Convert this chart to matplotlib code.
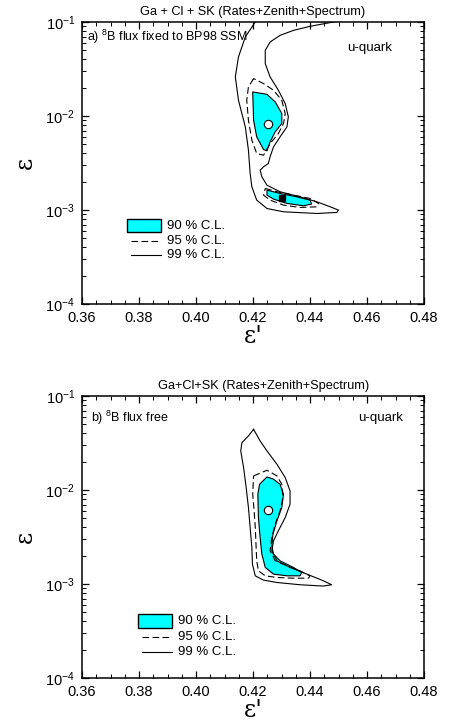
import numpy as np
import matplotlib.pyplot as plt
from matplotlib.patches import Rectangle
from matplotlib.lines import Line2D
from matplotlib.ticker import MultipleLocator, LogLocator, NullFormatter

plt.rcParams['font.family'] = ['Liberation Sans', 'DejaVu Sans']
plt.rcParams['mathtext.fontset'] = 'custom'
plt.rcParams['mathtext.rm'] = 'Liberation Sans'
plt.rcParams['mathtext.it'] = 'Liberation Sans:italic'

# contours: (eps', log10 eps)
# panel a, 8B flux fixed to BP98 SSM
a99 = [(0.4208, -0.90), (0.4208, -1.0), (0.4173, -1.159), (0.4149, -1.372), (0.4138, -1.584),
       (0.4149, -1.832), (0.4173, -2.116), (0.4184, -2.364), (0.4190, -2.612),
       (0.4196, -2.753), (0.4213, -2.895), (0.4249, -2.984), (0.4307, -3.019),
       (0.4424, -3.037), (0.4494, -3.026), (0.4500, -3.001), (0.4471, -2.966),
       (0.4424, -2.913), (0.4365, -2.860), (0.4295, -2.806), (0.4249, -2.736),
       (0.4231, -2.647), (0.4225, -2.576), (0.4237, -2.541), (0.4254, -2.505),
       (0.4260, -2.434), (0.4272, -2.328), (0.4295, -2.222), (0.4319, -2.116),
       (0.4324, -2.009), (0.4313, -1.868), (0.4289, -1.726), (0.4260, -1.584),
       (0.4243, -1.443), (0.4243, -1.301), (0.4260, -1.213), (0.4295, -1.142),
       (0.4342, -1.089), (0.4400, -1.046), (0.4482, -1.0), (0.4560, -0.96)]
a95_up = [(0.4202, -1.602), (0.4184, -1.691), (0.4178, -1.832), (0.4184, -2.045),
          (0.4196, -2.257), (0.4213, -2.399), (0.4237, -2.417), (0.4260, -2.293),
          (0.4289, -2.187), (0.4307, -2.080), (0.4313, -1.974), (0.4301, -1.832),
          (0.4272, -1.726), (0.4237, -1.655)]
a90_up = [(0.4199, -1.744), (0.4249, -1.769), (0.4278, -1.850), (0.4301, -1.974),
          (0.4301, -2.080), (0.4278, -2.169), (0.4260, -2.275), (0.4249, -2.371),
          (0.4237, -2.357), (0.4213, -2.222), (0.4202, -2.045)]
a95_lo = [(0.4243, -2.771), (0.4284, -2.806), (0.4342, -2.842), (0.4400, -2.877),
          (0.4430, -2.930), (0.4424, -2.966), (0.4365, -2.973), (0.4307, -2.948),
          (0.4260, -2.895), (0.4237, -2.842)]
a90_lo = [(0.4249, -2.789), (0.4295, -2.824), (0.4354, -2.860), (0.4400, -2.895),
          (0.4406, -2.937), (0.4377, -2.955), (0.4319, -2.930), (0.4272, -2.884),
          (0.4249, -2.842)]
a_best = (0.4251, 8.3e-3)
a_local = (0.4301, 1.35e-3)

# panel b, 8B flux free
b99 = [(0.4202, -1.354), (0.4225, -1.478), (0.4249, -1.584), (0.4284, -1.726),
       (0.4313, -1.868), (0.4330, -2.009), (0.4330, -2.151), (0.4313, -2.293),
       (0.4289, -2.434), (0.4272, -2.541), (0.4266, -2.647), (0.4284, -2.753),
       (0.4330, -2.824), (0.4389, -2.895), (0.4447, -2.966), (0.4476, -3.008),
       (0.4447, -3.022), (0.4365, -3.008), (0.4284, -2.984), (0.4237, -2.959),
       (0.4208, -2.913), (0.4198, -2.789), (0.4196, -2.612), (0.4190, -2.399),
       (0.4184, -2.187), (0.4176, -1.974), (0.4167, -1.762), (0.4157, -1.584),
       (0.4161, -1.496), (0.4184, -1.425)]
b95 = [(0.4202, -1.850), (0.4249, -1.790), (0.4284, -1.850), (0.4301, -1.939),
       (0.4305, -2.080), (0.4295, -2.222), (0.4278, -2.364), (0.4266, -2.505),
       (0.4260, -2.647), (0.4278, -2.753), (0.4319, -2.806), (0.4365, -2.860),
       (0.4400, -2.913), (0.4395, -2.938), (0.4342, -2.938), (0.4284, -2.931),
       (0.4243, -2.913), (0.4219, -2.860), (0.4213, -2.753), (0.4211, -2.612),
       (0.4208, -2.399), (0.4204, -2.222), (0.4199, -2.045)]
b90 = [(0.4249, -1.861), (0.4223, -1.939), (0.4217, -2.045), (0.4219, -2.293),
       (0.4225, -2.505), (0.4231, -2.682), (0.4243, -2.824), (0.4272, -2.895),
       (0.4319, -2.913), (0.4365, -2.913), (0.4371, -2.877), (0.4342, -2.824),
       (0.4295, -2.753), (0.4272, -2.682), (0.4266, -2.594), (0.4270, -2.470),
       (0.4284, -2.328), (0.4301, -2.187), (0.4307, -2.045), (0.4295, -1.939),
       (0.4272, -1.885)]
b_best = (0.4252, 6.1e-3)

titles = ['Ga + Cl + SK (Rates+Zenith+Spectrum)', 'Ga+Cl+SK (Rates+Zenith+Spectrum)']
labels = [r'a) $^{8}$B flux fixed to BP98 SSM', r'b) $^{8}$B flux free']
cl_labels = ['90 % C.L.', '95 % C.L.', '99 % C.L.']
CYAN = '#00ffff'


def xy(pts, close=True):
    x = [p[0] for p in pts]
    y = [10 ** p[1] for p in pts]
    if close:
        x.append(x[0])
        y.append(y[0])
    return x, y


def style_axes(ax):
    ax.set_xlim(0.36, 0.48)
    ax.set_yscale('log')
    ax.set_ylim(1e-4, 1e-1)
    ax.xaxis.set_major_locator(MultipleLocator(0.02))
    ax.xaxis.set_minor_locator(MultipleLocator(0.005))
    ax.xaxis.set_major_formatter(plt.FuncFormatter(lambda v, p: '%.2f' % v))
    ax.yaxis.set_major_locator(LogLocator(base=10, numticks=10))
    ax.yaxis.set_minor_locator(LogLocator(base=10, subs=np.arange(2, 10), numticks=20))
    ax.yaxis.set_minor_formatter(NullFormatter())
    ax.yaxis.set_major_formatter(plt.FuncFormatter(
        lambda v, p: r'$\mathregular{10^{%d}}$' % int(round(np.log10(v)))))
    ax.tick_params(which='both', direction='in', top=True, right=True, labelsize=10.5, pad=5)
    ax.tick_params(which='major', length=5, width=0.9)
    ax.tick_params(which='minor', length=3, width=0.7)
    for s in ax.spines.values():
        s.set_linewidth(1.1)
    ax.set_xlabel("ε'", family='DejaVu Serif', fontsize=17, labelpad=0)
    ax.set_ylabel('ε', family='DejaVu Serif', fontsize=17, labelpad=6)


def legend(ax, x0, y0, dy):
    ax.add_patch(Rectangle((x0, y0 - 0.024), 0.10, 0.048, transform=ax.transAxes,
                           facecolor=CYAN, edgecolor='black', lw=1.0, clip_on=False))
    ax.add_line(Line2D([x0 + 0.01, x0 + 0.10], [y0 - dy] * 2, transform=ax.transAxes,
                       color='black', lw=0.8, ls=(0, (6, 3))))
    ax.add_line(Line2D([x0 + 0.01, x0 + 0.10], [y0 - 2 * dy] * 2, transform=ax.transAxes,
                       color='black', lw=0.8))
    for i, t in enumerate(cl_labels):
        ax.text(x0 + 0.118, y0 - i * dy, t, transform=ax.transAxes,
                fontsize=9.5, va='center', ha='left')


fig = plt.figure(figsize=(4.52, 7.22), dpi=100)
ax1 = fig.add_axes([82 / 452, 1 - 304 / 722, 342 / 452, 282 / 722])
ax2 = fig.add_axes([82 / 452, 1 - 678 / 722, 342 / 452, 282 / 722])

# panel a
x, y = xy(a99, close=False)
ax1.plot(x, y, color='black', lw=0.8)
for pts in (a90_up, a90_lo):
    x, y = xy(pts)
    ax1.fill(x, y, facecolor=CYAN, edgecolor='black', lw=0.8)
for pts in (a95_up, a95_lo):
    x, y = xy(pts)
    ax1.plot(x, y, color='black', lw=0.8, ls=(0, (6, 3)))
ax1.plot(*a_best, 'o', ms=6, mfc='white', mec='black', mew=0.8)
ax1.plot(*a_local, 's', ms=4, color='black')

# panel b
x, y = xy(b90)
ax2.fill(x, y, facecolor=CYAN, edgecolor='black', lw=0.8)
x, y = xy(b95)
ax2.plot(x, y, color='black', lw=0.8, ls=(0, (6, 3)))
x, y = xy(b99)
ax2.plot(x, y, color='black', lw=0.8)
ax2.plot(*b_best, 'o', ms=6, mfc='white', mec='black', mew=0.8)

for ax, title, lab in zip((ax1, ax2), titles, labels):
    style_axes(ax)
    ax.set_title(title, fontsize=9.2, pad=5)
ax1.text(0.015, 0.947, labels[0], transform=ax1.transAxes, fontsize=9.0, va='center')
ax1.text(0.775, 0.908, 'u-quark', transform=ax1.transAxes, fontsize=9.5, va='center')
ax2.text(0.026, 0.922, labels[1], transform=ax2.transAxes, fontsize=9.0, va='center')
ax2.text(0.808, 0.922, 'u-quark', transform=ax2.transAxes, fontsize=9.5, va='center')
ax2.title.set_position((0.53, 1.0))

legend(ax1, 0.132, 0.278, 0.053)
legend(ax2, 0.164, 0.202, 0.055)

fig.savefig('out.png', dpi=100)
